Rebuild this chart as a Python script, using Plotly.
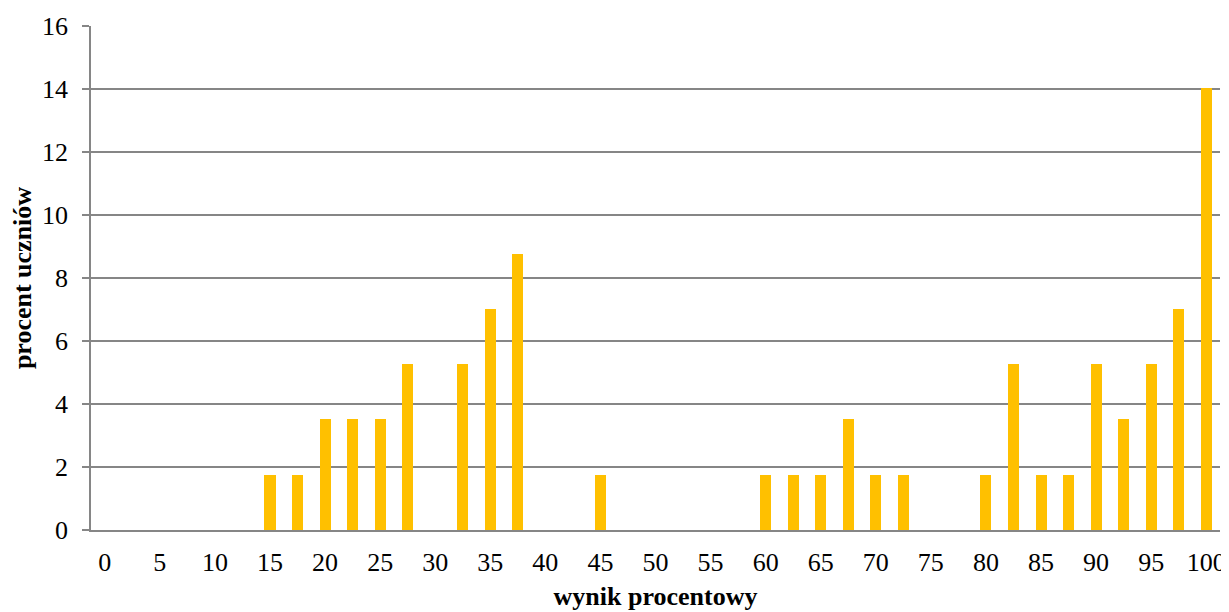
import plotly.graph_objects as go

scores = [i * 2.5 for i in range(41)]
percent = [0, 0, 0, 0, 0, 0, 1.75, 1.75, 3.51, 3.51, 3.51, 5.26, 0, 5.26, 7.02, 8.77,
           0, 0, 1.75, 0, 0, 0, 0, 0, 1.75, 1.75, 1.75, 3.51, 1.75, 1.75,
           0, 0, 1.75, 5.26, 1.75, 1.75, 5.26, 3.51, 5.26, 7.02, 14.04]
x_ticks = list(range(0, 101, 5))
y_ticks = list(range(0, 17, 2))

FONT = "Liberation Serif"
GRID = "#868686"

fig = go.Figure(go.Bar(x=scores, y=percent, width=1.0,
                       marker=dict(color="#FFC000", line=dict(width=0))))

fig.update_layout(
    width=1221, height=604,
    margin=dict(l=82.5, r=8.5, t=17.5, b=82, autoexpand=False),
    paper_bgcolor="white", plot_bgcolor="white",
    showlegend=False,
    font=dict(family=FONT, size=26, color="black"),
    bargap=0,
)
fig.update_xaxes(
    range=[-1.25, 101.25], tickvals=x_ticks, ticktext=[str(v) for v in x_ticks],
    showgrid=False, showline=True, linecolor=GRID, linewidth=1.5,
    ticks="", ticklabelstandoff=8,
    title=dict(text="<b>wynik procentowy</b>", font=dict(family=FONT, size=26), standoff=11),
    zeroline=False, automargin=False,
)
fig.update_yaxes(
    range=[0, 16], tickvals=y_ticks,
    showgrid=True, gridcolor=GRID, gridwidth=1.5,
    showline=True, linecolor=GRID, linewidth=1.5,
    ticks="outside", ticklen=7, tickcolor=GRID, tickwidth=1.5,
    ticklabelstandoff=9,
    title=dict(text="<b>procent uczniów</b>", font=dict(family=FONT, size=26), standoff=13),
    zeroline=False, automargin=False,
)

fig.write_html("out.html")
